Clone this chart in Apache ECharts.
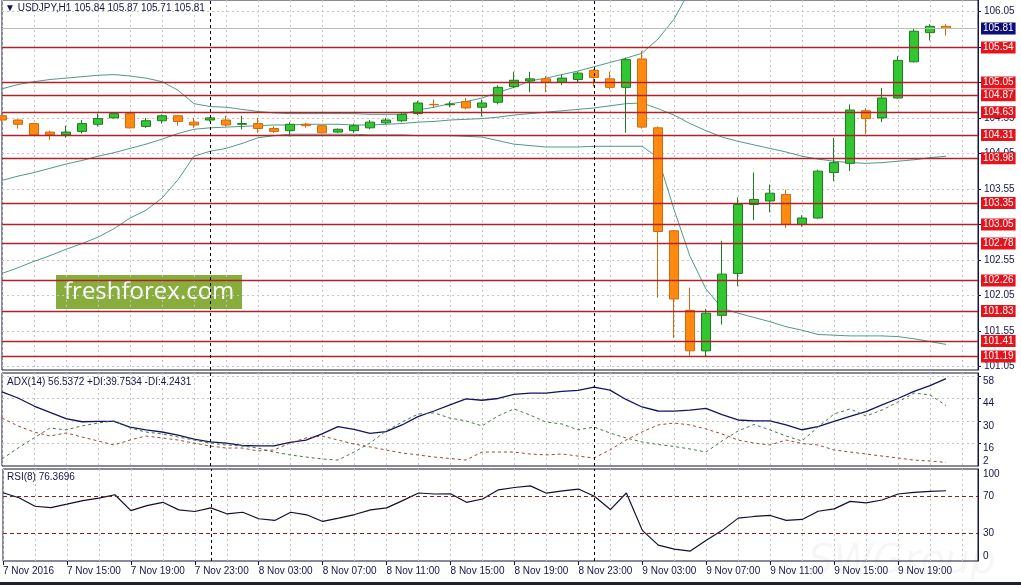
<!DOCTYPE html>
<html>
<head>
<meta charset="utf-8">
<title>USDJPY H1</title>
<script src="https://cdn.jsdelivr.net/npm/echarts@6/dist/echarts.min.js"></script>
<style>
  html, body { margin: 0; padding: 0; background: #fff; }
  #chart { width: 1021px; height: 585px; }
</style>
</head>
<body>
<div id="chart"></div>
<script>
// hourly bars 7 Nov 11:00 .. 9 Nov 22:00, plus two empty slots (chart shift)
const barTimes = [];
for (let k = 0; k < 62; k++) {
  const h = 11 + k;
  barTimes.push((7 + Math.floor(h / 24)) + ' Nov ' + String(h % 24).padStart(2, '0') + ':00');
}

const xTickLabels = ['7 Nov 2016', '7 Nov 15:00', '7 Nov 19:00', '7 Nov 23:00', '8 Nov 03:00',
  '8 Nov 07:00', '8 Nov 11:00', '8 Nov 15:00', '8 Nov 19:00', '8 Nov 23:00', '9 Nov 03:00',
  '9 Nov 07:00', '9 Nov 11:00', '9 Nov 15:00', '9 Nov 19:00'];

const priceTicks = [101.05, 101.55, 102.05, 102.55, 103.05, 103.55, 104.05, 104.55, 105.05, 105.55, 106.05];
const adxTicks = [16, 30, 44, 58];
const rsiTicks = [30, 70];

// horizontal levels drawn on the chart
const levels = [105.54, 105.05, 104.87, 104.63, 104.31, 103.98, 103.35, 103.05, 102.78, 102.26, 101.83, 101.41, 101.19];
const bidPrice = 105.81;
const daySeparators = ['8 Nov 00:00', '9 Nov 00:00'];

const opens = [104.58, 104.52, 104.47, 104.35, 104.31, 104.36, 104.46, 104.55, 104.61, 104.43,
  104.51, 104.58, 104.49, 104.52, 104.52, 104.46, 104.47, 104.40, 104.37, 104.46,
  104.44, 104.35, 104.37, 104.41, 104.48, 104.51, 104.61, 104.74, 104.735, 104.78,
  104.70, 104.77, 104.99, 105.07, 105.10, 105.05, 105.09, 105.22, 105.10, 104.98,
  105.38, 104.41, 102.96, 101.84, 101.27, 101.77, 102.36, 103.33, 103.38, 103.47,
  103.05, 103.14, 103.78, 103.91, 104.65, 104.55, 104.83, 105.34, 105.75, 105.84];
const closes = [104.52, 104.46, 104.31, 104.31, 104.35, 104.47, 104.54, 104.61, 104.41, 104.51,
  104.58, 104.50, 104.45, 104.55, 104.45, 104.47, 104.40, 104.36, 104.46, 104.44,
  104.34, 104.39, 104.44, 104.49, 104.52, 104.60, 104.76, 104.735, 104.745, 104.69,
  104.76, 104.98, 105.08, 105.10, 105.05, 105.11, 105.18, 105.12, 104.98, 105.37,
  104.42, 102.95, 102.00, 101.27, 101.80, 102.35, 103.33, 103.40, 103.49, 103.05,
  103.14, 103.80, 103.92, 104.66, 104.54, 104.83, 105.36, 105.77, 105.84, 105.81];
const lows = [104.50, 104.40, 104.30, 104.24, 104.27, 104.33, 104.43, 104.54, 104.40, 104.41,
  104.47, 104.44, 104.41, 104.50, 104.43, 104.39, 104.34, 104.34, 104.29, 104.41,
  104.33, 104.34, 104.34, 104.39, 104.46, 104.49, 104.59, 104.69, 104.70, 104.67,
  104.57, 104.74, 104.97, 104.91, 104.91, 105.01, 105.05, 104.99, 104.95, 104.34,
  104.40, 102.02, 101.45, 101.20, 101.18, 101.64, 102.18, 103.11, 103.22, 103.00,
  103.02, 103.13, 103.66, 103.80, 104.32, 104.49, 104.82, 105.33, 105.64, 105.71];
const highs = [104.59, 104.53, 104.48, 104.37, 104.44, 104.52, 104.61, 104.62, 104.62, 104.55,
  104.60, 104.59, 104.55, 104.56, 104.58, 104.58, 104.55, 104.43, 104.49, 104.48,
  104.45, 104.40, 104.47, 104.52, 104.55, 104.63, 104.79, 104.81, 104.78, 104.83,
  104.81, 105.01, 105.20, 105.20, 105.14, 105.16, 105.20, 105.24, 105.20, 105.40,
  105.49, 104.43, 102.97, 102.16, 101.86, 102.82, 103.43, 103.78, 103.61, 103.54,
  103.18, 103.82, 104.27, 104.74, 104.69, 104.97, 105.42, 105.80, 105.87, 105.87];

// Bollinger bands
const bbUpper = [104.96, 105.02, 105.06, 105.09, 105.11, 105.13, 105.15, 105.16, 105.14, 105.11,
  105.06, 104.94, 104.75, 104.71, 104.70, 104.67, 104.64, 104.62, 104.61, 104.61,
  104.61, 104.61, 104.61, 104.60, 104.60, 104.60, 104.66, 104.70, 104.75, 104.78,
  104.83, 104.91, 104.98, 105.07, 105.11, 105.16, 105.21, 105.27, 105.33, 105.39,
  105.46, 105.66, 105.94, 106.35, 106.61, 106.68, 106.64, 106.60, 106.56, 106.53,
  106.46, 106.43, 106.39, 106.35, 106.34, 106.36, 106.40, 106.47, 106.57, 106.66];
const bbMiddle = [103.67, 103.73, 103.78, 103.84, 103.90, 103.95, 104.01, 104.06, 104.12, 104.18,
  104.25, 104.33, 104.39, 104.41, 104.42, 104.43, 104.44, 104.45, 104.45, 104.46,
  104.46, 104.46, 104.45, 104.45, 104.46, 104.47, 104.49, 104.50, 104.52, 104.53,
  104.54, 104.56, 104.59, 104.61, 104.63, 104.65, 104.67, 104.69, 104.72, 104.75,
  104.76, 104.68, 104.59, 104.47, 104.37, 104.28, 104.22, 104.17, 104.12, 104.07,
  104.01, 103.97, 103.94, 103.92, 103.91, 103.92, 103.94, 103.96, 103.99, 104.01];
const bbLower = [102.36, 102.44, 102.53, 102.61, 102.70, 102.78, 102.87, 102.99, 103.14, 103.25,
  103.42, 103.68, 104.01, 104.08, 104.12, 104.19, 104.27, 104.30, 104.32, 104.32,
  104.32, 104.32, 104.32, 104.31, 104.31, 104.31, 104.30, 104.30, 104.30, 104.29,
  104.28, 104.23, 104.18, 104.16, 104.14, 104.14, 104.14, 104.15, 104.15, 104.15,
  104.15, 103.99, 103.26, 102.60, 102.14, 101.87, 101.80, 101.74, 101.68, 101.61,
  101.56, 101.50, 101.49, 101.48, 101.48, 101.48, 101.47, 101.44, 101.40, 101.36];

// ADX(14)
const adx = [48.2, 44.4, 39.4, 35.4, 31.6, 29.6, 29.8, 29.8, 26.3, 24.5,
  23.2, 21.3, 18.8, 17.0, 16.3, 14.8, 14.5, 14.5, 16.8, 18.2,
  22.0, 26.5, 24.8, 22.4, 23.4, 27.6, 32.8, 36.3, 40.1, 43.8,
  43.0, 44.1, 46.7, 47.4, 47.4, 48.5, 49.2, 51.2, 49.3, 43.5,
  38.8, 36.3, 36.2, 36.9, 38.0, 34.1, 30.7, 30.1, 30.1, 27.6,
  24.6, 26.6, 29.8, 32.9, 35.9, 40.1, 44.1, 48.5, 52.1, 56.54];
const plusDI = [6.4, 13.2, 19.5, 25.7, 24.5, 27.0, 28.8, 30.1, 25.7, 23.2,
  22.0, 20.1, 18.2, 16.3, 15.1, 14.5, 13.2, 10.7, 8.9, 7.6,
  6.4, 5.7, 10.7, 16.3, 23.8, 29.4, 34.4, 35.1, 31.9, 30.1,
  27.0, 33.2, 37.6, 33.8, 29.4, 28.2, 24.5, 26.3, 22.6, 19.5,
  17.0, 15.4, 14.2, 12.6, 10.7, 17.6, 23.8, 27.9, 24.5, 20.7,
  17.6, 26.3, 34.4, 37.6, 33.2, 36.9, 41.9, 47.5, 46.3, 39.75];
const minusDI = [31.9, 27.0, 23.2, 20.7, 22.6, 20.1, 17.6, 15.1, 18.2, 20.7,
  19.5, 18.2, 16.3, 14.5, 13.2, 13.2, 11.4, 12.0, 16.3, 19.5,
  20.7, 18.2, 15.7, 13.9, 12.0, 10.1, 8.9, 7.6, 6.7, 5.7,
  10.7, 10.7, 10.7, 9.5, 8.9, 9.5, 8.2, 7.0, 12.0, 18.2,
  23.2, 27.6, 28.8, 27.6, 25.1, 22.0, 18.2, 16.3, 15.1, 18.2,
  16.0, 15.1, 12.0, 10.7, 9.5, 8.2, 7.0, 5.7, 5.1, 4.24];

// RSI(8)
const rsi = [74.2, 68.8, 59.5, 58.1, 61.8, 65.6, 68.3, 72.0, 54.8, 60.2,
  63.8, 55.6, 53.8, 57.7, 51.3, 53.0, 45.9, 44.1, 53.0, 50.2,
  43.0, 46.6, 50.5, 55.6, 57.7, 65.6, 73.9, 72.8, 73.1, 63.8,
  67.4, 77.4, 79.9, 81.7, 73.7, 76.3, 78.2, 70.4, 55.9, 73.9,
  33.3, 17.2, 12.9, 10.8, 22.6, 33.3, 46.6, 48.4, 49.5, 44.1,
  45.2, 54.1, 56.7, 64.8, 63.1, 66.3, 72.8, 74.5, 75.6, 76.37];

const candleData = opens.map((o, i) => [o, closes[i], lows[i], highs[i]]);

const FONT = 'Liberation Sans';
const TEXT = '#141448';
const GRID_LINE = { show: true, lineStyle: { color: '#c4c4c4', type: [2, 3], width: 1 } };

function xAxisFor(gridIndex, withLabels) {
  const every4 = (idx) => idx % 4 === 0 && idx < 60;
  return {
    type: 'category',
    gridIndex: gridIndex,
    data: barTimes,
    boundaryGap: false,
    axisLine: { show: false },
    axisTick: {
      show: withLabels, interval: every4, length: 4, inside: false,
      lineStyle: { color: '#141448' }
    },
    axisLabel: {
      show: withLabels, interval: every4, align: 'left', margin: 5,
      fontFamily: FONT, fontSize: 10, color: TEXT,
      formatter: (v, idx) => xTickLabels[idx / 4]
    },
    splitLine: Object.assign({ interval: 1 }, GRID_LINE)
  };
}

function sideAxis(gridIndex, min, max, values, vAlign, opts) {
  opts = opts || {};
  return {
    type: 'value',
    gridIndex: gridIndex,
    position: 'right',
    min: min,
    max: max,
    axisLine: { show: !!opts.line, lineStyle: { color: '#141448', width: 1 } },
    axisTick: { show: !!opts.ticks, customValues: values, length: 3, lineStyle: { color: '#141448' } },
    axisLabel: {
      customValues: values, margin: opts.margin || 5, verticalAlign: vAlign,
      fontFamily: FONT, fontSize: 10, color: TEXT,
      formatter: opts.fmt || ((v) => String(v))
    },
    splitLine: opts.split ? GRID_LINE : { show: false }
  };
}

function separatorLines() {
  return {
    silent: true,
    symbol: ['none', 'none'],
    label: { show: false },
    lineStyle: { color: '#000', type: [3, 3], width: 1 },
    data: daySeparators.map((t) => ({ xAxis: t }))
  };
}

const levelMarks = levels.map((v) => ({
  yAxis: v,
  lineStyle: { color: '#b0222a', width: 1.3, type: 'solid' },
  label: { backgroundColor: '#e4141c', color: '#fff' }
}));
levelMarks.push({
  yAxis: bidPrice,
  lineStyle: { color: '#bcbcbc', width: 1, type: 'solid' },
  label: { backgroundColor: '#0c0c7a', color: '#fff' }
});

const bandStyle = { color: '#4f9a8c', width: 1 };

const chart = echarts.init(document.getElementById('chart'), null, { renderer: 'canvas' });
chart.setOption({
  animation: false,
  backgroundColor: '#fff',
  grid: [
    { left: 2, right: 43, top: 0, height: 370, show: true, backgroundColor: '#fff', borderColor: '#151535', borderWidth: 1 },
    { left: 2, right: 43, top: 373, height: 93, show: true, backgroundColor: '#fff', borderColor: '#151535', borderWidth: 1 },
    { left: 2, right: 43, top: 469, height: 92, show: true, backgroundColor: '#fff', borderColor: '#151535', borderWidth: 1 }
  ],
  xAxis: [xAxisFor(0, false), xAxisFor(1, false), xAxisFor(2, true)],
  yAxis: [
    sideAxis(0, 101.0, 106.21, priceTicks, 'middle', { line: true, ticks: true, split: true, margin: 6, fmt: (v) => v.toFixed(2) }),
    sideAxis(1, 2, 60, adxTicks, 'top', { line: true, ticks: true, split: true }),
    sideAxis(1, 2, 60, [2], 'bottom'),
    sideAxis(2, 0, 100, rsiTicks, 'middle', { line: true }),
    sideAxis(2, 0, 100, [100], 'top'),
    sideAxis(2, 0, 100, [0], 'bottom')
  ],
  series: [
    {
      name: 'levels', type: 'line', xAxisIndex: 0, yAxisIndex: 0, data: [], z: 1,
      markLine: {
        silent: true,
        symbol: ['none', 'none'],
        precision: 2,
        label: {
          position: 'end', distance: 3, padding: [1, 2, 0, 2],
          fontFamily: FONT, fontSize: 10, lineHeight: 11,
          formatter: (p) => p.value.toFixed(2)
        },
        data: levelMarks
      }
    },
    { name: 'BB upper', type: 'line', xAxisIndex: 0, yAxisIndex: 0, data: bbUpper, symbol: 'none', lineStyle: bandStyle, z: 2 },
    { name: 'BB middle', type: 'line', xAxisIndex: 0, yAxisIndex: 0, data: bbMiddle, symbol: 'none', lineStyle: bandStyle, z: 2 },
    { name: 'BB lower', type: 'line', xAxisIndex: 0, yAxisIndex: 0, data: bbLower, symbol: 'none', lineStyle: bandStyle, z: 2 },
    {
      name: 'USDJPY', type: 'candlestick', xAxisIndex: 0, yAxisIndex: 0, data: candleData,
      barWidth: 10, z: 3,
      itemStyle: {
        color: '#33c633', borderColor: '#1d7d1d',
        color0: '#ff8a12', borderColor0: '#d06a0a', borderWidth: 1
      },
      markLine: separatorLines()
    },
    {
      name: 'ADX', type: 'line', xAxisIndex: 1, yAxisIndex: 1, data: adx, symbol: 'none',
      lineStyle: { color: '#14145e', width: 1.3 }, markLine: separatorLines()
    },
    {
      name: '+DI', type: 'line', xAxisIndex: 1, yAxisIndex: 1, data: plusDI, symbol: 'none',
      lineStyle: { color: '#3f7a3f', width: 1, type: [3, 3] }
    },
    {
      name: '-DI', type: 'line', xAxisIndex: 1, yAxisIndex: 1, data: minusDI, symbol: 'none',
      lineStyle: { color: '#9a4a32', width: 1, type: [3, 3] }
    },
    {
      name: 'RSI', type: 'line', xAxisIndex: 2, yAxisIndex: 3, data: rsi, symbol: 'none',
      lineStyle: { color: '#10102e', width: 1.2 },
      markLine: {
        silent: true,
        symbol: ['none', 'none'],
        label: { show: false },
        lineStyle: { color: '#8e1e1e', type: [4, 3], width: 1 },
        data: rsiTicks.map((v) => ({ yAxis: v })).concat(daySeparators.map((t) => ({
          xAxis: t, lineStyle: { color: '#000', type: [3, 3], width: 1 }
        })))
      }
    }
  ],
  graphic: [
    {
      type: 'text', left: 5, top: 3, z: 50,
      style: { text: '\u25BC USDJPY,H1 105.84 105.87 105.71 105.81', font: '10px "Liberation Sans"', fill: TEXT }
    },
    {
      type: 'text', left: 7, top: 377, z: 50,
      style: { text: 'ADX(14) 56.5372 +DI:39.7534 -DI:4.2431', font: '10px "Liberation Sans"', fill: TEXT }
    },
    {
      type: 'text', left: 7, top: 472, z: 50,
      style: { text: 'RSI(8) 76.3696', font: '10px "Liberation Sans"', fill: TEXT }
    },
    {
      type: 'group', left: 56, top: 275, z: 60,
      children: [
        { type: 'rect', shape: { x: 0, y: 0, width: 186, height: 34 }, style: { fill: '#87ae3c' } },
        {
          type: 'text', x: 8, y: 17,
          style: { text: 'freshforex.com', font: '24px "Open Sans"', fill: '#fff', verticalAlign: 'middle' }
        }
      ]
    },
    {
      type: 'text', left: 808, top: 543, z: 40,
      style: { text: 'SWGroup', font: 'italic 40px "DejaVu Sans"', fill: 'rgba(0,0,0,0.035)' }
    },
    {
      type: 'rect', left: 0, top: 582, z: 50,
      shape: { width: 1021, height: 3 }, style: { fill: '#202028' }
    }
  ]
});
</script>
</body>
</html>
